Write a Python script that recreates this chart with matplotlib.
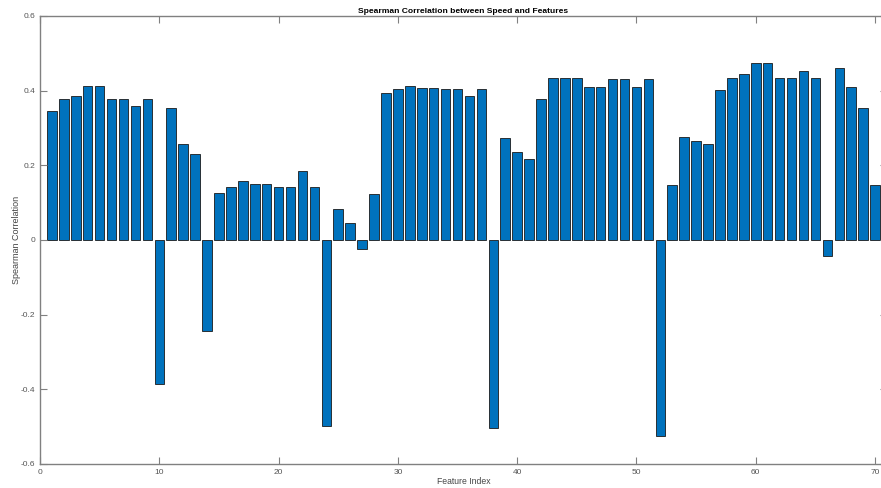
import numpy as np
import matplotlib.pyplot as plt
from matplotlib.ticker import FuncFormatter

plt.rcParams['font.family'] = ['Liberation Sans', 'DejaVu Sans']
plt.rcParams['axes.unicode_minus'] = False

# Spearman correlation for each feature
feature_index = np.arange(1, 71)
correlation = [
    0.345, 0.379, 0.387, 0.412, 0.412, 0.379, 0.379, 0.360, 0.379, -0.387,
    0.354, 0.258, 0.231, -0.243, 0.127, 0.142, 0.157, 0.150, 0.150, 0.142,
    0.142, 0.186, 0.142, -0.498, 0.084, 0.045, -0.024, 0.124, 0.393, 0.405,
    0.412, 0.408, 0.408, 0.405, 0.405, 0.387, 0.405, -0.504, 0.272, 0.236,
    0.217, 0.377, 0.434, 0.433, 0.434, 0.409, 0.409, 0.432, 0.432, 0.409,
    0.432, -0.526, 0.148, 0.276, 0.265, 0.257, 0.403, 0.434, 0.445, 0.475,
    0.475, 0.434, 0.434, 0.452, 0.434, -0.042, 0.461, 0.411, 0.353, 0.147,
]
x_ticks = [0, 10, 20, 30, 40, 50, 60, 70]
y_ticks = [-0.6, -0.4, -0.2, 0, 0.2, 0.4, 0.6]

fig = plt.figure(figsize=(8.81, 4.88), dpi=100)
# axes run a bit past the right edge, like the cropped screenshot
ax = fig.add_axes([40 / 881, 24 / 488, 847 / 881, 448 / 488])

ax.bar(feature_index, correlation, width=0.8, color='#0072BD',
       edgecolor='#1a1a1a', linewidth=0.6)

ax.set_xlim(0, 71)
ax.set_ylim(-0.6, 0.6)
ax.set_xticks(x_ticks)
ax.set_yticks(y_ticks)
ax.yaxis.set_major_formatter(FuncFormatter(lambda v, p: f'{v:g}'))

gray = '#808080'
for s in ax.spines.values():
    s.set_color(gray)
    s.set_linewidth(1.0)
ax.tick_params(direction='in', length=5, width=0.8, colors=gray,
               labelsize=6, top=True, right=True, labelcolor='#555555')

ax.set_title('Spearman Correlation between Speed and Features',
             fontsize=6.1, fontweight='bold', pad=2)
ax.set_xlabel('Feature Index', fontsize=6.2, color='#444444', labelpad=1)
ax.set_ylabel('Spearman Correlation', fontsize=6.5, color='#444444', labelpad=0)

fig.savefig('out.png', dpi=100)
